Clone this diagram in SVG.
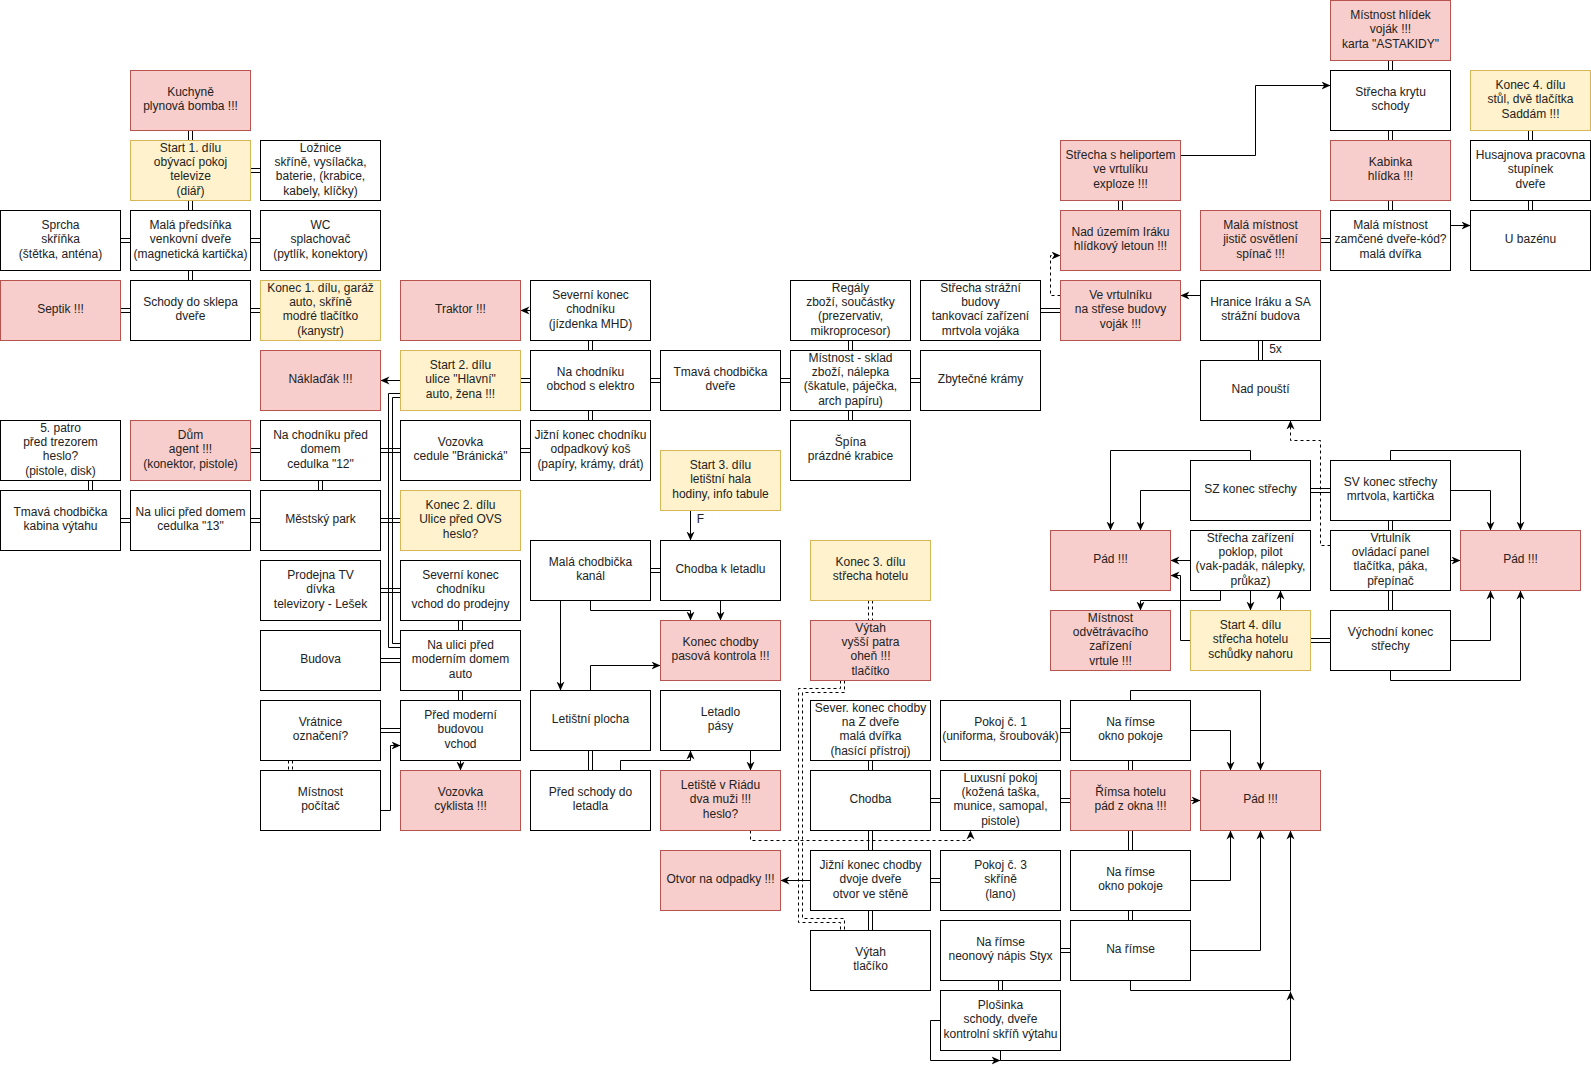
<svg xmlns="http://www.w3.org/2000/svg" width="1591" height="1070" viewBox="0 0 1591 1070">
<style>
.w{fill:#fff;stroke:#000}
.r{fill:#f8cecc;stroke:#b85450}
.y{fill:#fff2cc;stroke:#d6b656}
text{font-family:"Liberation Sans",Arial,sans-serif;font-size:12px;text-anchor:middle;fill:#222;transform:translateY(-1.5px)}
.e{fill:none;stroke:#000}
.d{stroke-dasharray:3 3}
.a{marker-end:url(#ar)}
</style>
<defs>
<marker id="ar" markerUnits="userSpaceOnUse" viewBox="0 0 10 10" markerWidth="9" markerHeight="9" refX="10" refY="5" orient="auto"><path d="M0,0.5 L10,5 L0,9.5 L3,5 Z" fill="#000"/></marker>
</defs>
<rect x="0" y="0" width="1591" height="1070" fill="#fff"/>
<g transform="translate(0.5,0.5)">
<g id="connectors">
<path class="e" d="M188 130V140M192 130V140M188 200V210M192 200V210M188 270V280M192 270V280
M88 480V490M92 480V490M318 480V490M322 480V490
M458 620V630M462 620V630M458 690V700M462 690V700
M588 340V350M592 340V350M588 410V420M592 410V420M588 750V770M592 750V770
M848 340V350M852 340V350M848 410V420M852 410V420
M868 760V770M872 760V770M868 830V850M872 830V850M868 910V930M872 910V930
M1128 760V770M1132 760V770M1128 830V850M1132 830V850M1128 910V920M1132 910V920
M998 980V990M1002 980V990
M1388 60V70M1392 60V70M1388 130V140M1392 130V140M1388 200V210M1392 200V210
M1528 130V140M1532 130V140M1528 200V210M1532 200V210
M1118 200V210M1122 200V210
M1258 340V360M1262 340V360
M1388 520V530M1392 520V530M1388 590V610M1392 590V610"/>
<path class="e" d="M250 168H260M250 172H260
M120 238H130M120 242H130M250 238H260M250 242H260
M120 308H130M120 312H130M250 308H260M250 312H260
M250 448H260M250 452H260M380 448H400M380 452H400M520 448H530M520 452H530
M120 518H130M120 522H130M250 518H260M250 522H260M380 518H400M380 522H400
M380 588H400M380 592H400M380 658H400M380 662H400M380 728H400M380 732H400
M520 378H530M520 382H530M650 378H660M650 382H660M780 378H790M780 382H790M910 378H920M910 382H920
M650 568H660M650 572H660
M930 798H940M930 802H940M1060 798H1070M1060 802H1070
M930 878H940M930 882H940
M1060 948H1070M1060 952H1070M1060 728H1070M1060 732H1070
M1040 308H1060M1040 312H1060
M1320 238H1330M1320 242H1330
M1310 488H1330M1310 492H1330
M1310 638H1330M1310 642H1330"/>
<path class="e" d="M400 393H388V647H400M400 397H392V643H400"/>
<path class="e d" d="M868 600V620M872 600V620M288 760V770M292 760V770"/>
<path class="e d" d="M840 680V688H798V922H840V930M844 680V692H802V918H844V930"/>
<path class="e a" d="M400 380H380"/>
<path class="e a" d="M530 310H520"/>
<path class="e a" d="M690 510V540"/>
<path class="e a" d="M560 600V690"/>
<path class="e a" d="M590 600V610H690V620"/>
<path class="e a" d="M720 600V620"/>
<path class="e a" d="M590 690V665H660"/>
<path class="e a" d="M620 770V760H690V750"/>
<path class="e a" d="M750 750V770"/>
<path class="e a" d="M460 760V770"/>
<path class="e a" d="M380 810H390V745H400"/>
<path class="e a" d="M810 880H780"/>
<path class="e a" d="M1180 155H1255V85H1330"/>
<path class="e a" d="M1450 225H1470"/>
<path class="e a" d="M1200 295H1180"/>
<path class="e a" d="M1250 460V450H1110V530"/>
<path class="e a" d="M1190 490H1140V530"/>
<path class="e a" d="M1390 460V450H1520V530"/>
<path class="e a" d="M1450 490H1490V530"/>
<path class="e a" d="M1190 560H1170"/>
<path class="e a" d="M1190 640H1180V575H1170"/>
<path class="e a" d="M1220 590V600H1140V610"/>
<path class="e a" d="M1250 590V610"/>
<path class="e a" d="M1280 610V590"/>
<path class="e a" d="M1450 560H1460"/>
<path class="e a" d="M1450 640H1490V590"/>
<path class="e a" d="M1390 670V680H1520V590"/>
<path class="e a" d="M1190 730H1230V770"/>
<path class="e a" d="M1130 700V690H1260V770"/>
<path class="e a" d="M1190 800H1200"/>
<path class="e a" d="M1190 880H1230V830"/>
<path class="e a" d="M1190 950H1260V830"/>
<path class="e a" d="M1130 980V990H1290V830"/>
<path class="e a" d="M1000 1050V1060H1290V991"/>
<path class="e a" d="M940 1020H930V1060H1000"/>
<path class="e d a" d="M1060 295H1050V255H1060"/>
<path class="e d a" d="M1330 545H1320V440H1290V420"/>
<path class="e d a" d="M750 830V840H970V830"/>
<text x="700" y="524">F</text>
<text x="1275" y="354">5x</text>
</g>
<g id="n1"><rect class="r" x="130" y="70" width="120" height="60"/><text x="190" y="97"><tspan x="190">Kuchyně</tspan><tspan x="190" dy="14.4">plynová bomba !!!</tspan></text></g>
<g id="n2"><rect class="y" x="130" y="140" width="120" height="60"/><text x="190" y="152.6"><tspan x="190">Start 1. dílu</tspan><tspan x="190" dy="14.4">obývací pokoj</tspan><tspan x="190" dy="14.4">televize</tspan><tspan x="190" dy="14.4">(diář)</tspan></text></g>
<g id="n3"><rect class="w" x="260" y="140" width="120" height="60"/><text x="320" y="152.6"><tspan x="320">Ložnice</tspan><tspan x="320" dy="14.4">skříně, vysílačka,</tspan><tspan x="320" dy="14.4">baterie, (krabice,</tspan><tspan x="320" dy="14.4">kabely, klíčky)</tspan></text></g>
<g id="n4"><rect class="w" x="0" y="210" width="120" height="60"/><text x="60" y="229.8"><tspan x="60">Sprcha</tspan><tspan x="60" dy="14.4">skříňka</tspan><tspan x="60" dy="14.4">(štětka, anténa)</tspan></text></g>
<g id="n5"><rect class="w" x="130" y="210" width="120" height="60"/><text x="190" y="229.8"><tspan x="190">Malá předsíňka</tspan><tspan x="190" dy="14.4">venkovní dveře</tspan><tspan x="190" dy="14.4">(magnetická kartička)</tspan></text></g>
<g id="n6"><rect class="w" x="260" y="210" width="120" height="60"/><text x="320" y="229.8"><tspan x="320">WC</tspan><tspan x="320" dy="14.4">splachovač</tspan><tspan x="320" dy="14.4">(pytlík, konektory)</tspan></text></g>
<g id="n7"><rect class="r" x="0" y="280" width="120" height="60"/><text x="60" y="314.2">Septik !!!</text></g>
<g id="n8"><rect class="w" x="130" y="280" width="120" height="60"/><text x="190" y="307"><tspan x="190">Schody do sklepa</tspan><tspan x="190" dy="14.4">dveře</tspan></text></g>
<g id="n9"><rect class="y" x="260" y="280" width="120" height="60"/><text x="320" y="292.6"><tspan x="320">Konec 1. dílu, garáž</tspan><tspan x="320" dy="14.4">auto, skříně</tspan><tspan x="320" dy="14.4">modré tlačítko</tspan><tspan x="320" dy="14.4">(kanystr)</tspan></text></g>
<g id="n10"><rect class="r" x="260" y="350" width="120" height="60"/><text x="320" y="384.2">Náklaďák !!!</text></g>
<g id="n11"><rect class="w" x="0" y="420" width="120" height="60"/><text x="60" y="432.6"><tspan x="60">5. patro</tspan><tspan x="60" dy="14.4">před trezorem</tspan><tspan x="60" dy="14.4">heslo?</tspan><tspan x="60" dy="14.4">(pistole, disk)</tspan></text></g>
<g id="n12"><rect class="r" x="130" y="420" width="120" height="60"/><text x="190" y="439.8"><tspan x="190">Dům</tspan><tspan x="190" dy="14.4">agent !!!</tspan><tspan x="190" dy="14.4">(konektor, pistole)</tspan></text></g>
<g id="n13"><rect class="w" x="260" y="420" width="120" height="60"/><text x="320" y="439.8"><tspan x="320">Na chodníku před</tspan><tspan x="320" dy="14.4">domem</tspan><tspan x="320" dy="14.4">cedulka "12"</tspan></text></g>
<g id="n14"><rect class="w" x="0" y="490" width="120" height="60"/><text x="60" y="517"><tspan x="60">Tmavá chodbička</tspan><tspan x="60" dy="14.4">kabina výtahu</tspan></text></g>
<g id="n15"><rect class="w" x="130" y="490" width="120" height="60"/><text x="190" y="517"><tspan x="190">Na ulici před domem</tspan><tspan x="190" dy="14.4">cedulka "13"</tspan></text></g>
<g id="n16"><rect class="w" x="260" y="490" width="120" height="60"/><text x="320" y="524.2">Městský park</text></g>
<g id="n17"><rect class="w" x="260" y="560" width="120" height="60"/><text x="320" y="579.8"><tspan x="320">Prodejna TV</tspan><tspan x="320" dy="14.4">dívka</tspan><tspan x="320" dy="14.4">televizory - Lešek</tspan></text></g>
<g id="n18"><rect class="w" x="260" y="630" width="120" height="60"/><text x="320" y="664.2">Budova</text></g>
<g id="n19"><rect class="w" x="260" y="700" width="120" height="60"/><text x="320" y="727"><tspan x="320">Vrátnice</tspan><tspan x="320" dy="14.4">označení?</tspan></text></g>
<g id="n20"><rect class="w" x="260" y="770" width="120" height="60"/><text x="320" y="797"><tspan x="320">Místnost</tspan><tspan x="320" dy="14.4">počítač</tspan></text></g>
<g id="n21"><rect class="r" x="400" y="280" width="120" height="60"/><text x="460" y="314.2">Traktor !!!</text></g>
<g id="n22"><rect class="y" x="400" y="350" width="120" height="60"/><text x="460" y="369.8"><tspan x="460">Start 2. dílu</tspan><tspan x="460" dy="14.4">ulice "Hlavní"</tspan><tspan x="460" dy="14.4">auto, žena !!!</tspan></text></g>
<g id="n23"><rect class="w" x="400" y="420" width="120" height="60"/><text x="460" y="447"><tspan x="460">Vozovka</tspan><tspan x="460" dy="14.4">cedule "Bránická"</tspan></text></g>
<g id="n24"><rect class="y" x="400" y="490" width="120" height="60"/><text x="460" y="509.8"><tspan x="460">Konec 2. dílu</tspan><tspan x="460" dy="14.4">Ulice před OVS</tspan><tspan x="460" dy="14.4">heslo?</tspan></text></g>
<g id="n25"><rect class="w" x="400" y="560" width="120" height="60"/><text x="460" y="579.8"><tspan x="460">Severní konec</tspan><tspan x="460" dy="14.4">chodníku</tspan><tspan x="460" dy="14.4">vchod do prodejny</tspan></text></g>
<g id="n26"><rect class="w" x="400" y="630" width="120" height="60"/><text x="460" y="649.8"><tspan x="460">Na ulici před</tspan><tspan x="460" dy="14.4">moderním domem</tspan><tspan x="460" dy="14.4">auto</tspan></text></g>
<g id="n27"><rect class="w" x="400" y="700" width="120" height="60"/><text x="460" y="719.8"><tspan x="460">Před moderní</tspan><tspan x="460" dy="14.4">budovou</tspan><tspan x="460" dy="14.4">vchod</tspan></text></g>
<g id="n28"><rect class="r" x="400" y="770" width="120" height="60"/><text x="460" y="797"><tspan x="460">Vozovka</tspan><tspan x="460" dy="14.4">cyklista !!!</tspan></text></g>
<g id="n29"><rect class="w" x="530" y="280" width="120" height="60"/><text x="590" y="299.8"><tspan x="590">Severní konec</tspan><tspan x="590" dy="14.4">chodníku</tspan><tspan x="590" dy="14.4">(jízdenka MHD)</tspan></text></g>
<g id="n30"><rect class="w" x="530" y="350" width="120" height="60"/><text x="590" y="377"><tspan x="590">Na chodníku</tspan><tspan x="590" dy="14.4">obchod s elektro</tspan></text></g>
<g id="n31"><rect class="w" x="530" y="420" width="120" height="60"/><text x="590" y="439.8"><tspan x="590">Jižní konec chodníku</tspan><tspan x="590" dy="14.4">odpadkový koš</tspan><tspan x="590" dy="14.4">(papíry, krámy, drát)</tspan></text></g>
<g id="n32"><rect class="w" x="530" y="540" width="120" height="60"/><text x="590" y="567"><tspan x="590">Malá chodbička</tspan><tspan x="590" dy="14.4">kanál</tspan></text></g>
<g id="n33"><rect class="w" x="530" y="690" width="120" height="60"/><text x="590" y="724.2">Letištní plocha</text></g>
<g id="n34"><rect class="w" x="530" y="770" width="120" height="60"/><text x="590" y="797"><tspan x="590">Před schody do</tspan><tspan x="590" dy="14.4">letadla</tspan></text></g>
<g id="n35"><rect class="w" x="660" y="350" width="120" height="60"/><text x="720" y="377"><tspan x="720">Tmavá chodbička</tspan><tspan x="720" dy="14.4">dveře</tspan></text></g>
<g id="n36"><rect class="y" x="660" y="450" width="120" height="60"/><text x="720" y="469.8"><tspan x="720">Start 3. dílu</tspan><tspan x="720" dy="14.4">letištní hala</tspan><tspan x="720" dy="14.4">hodiny, info tabule</tspan></text></g>
<g id="n37"><rect class="w" x="660" y="540" width="120" height="60"/><text x="720" y="574.2">Chodba k letadlu</text></g>
<g id="n38"><rect class="r" x="660" y="620" width="120" height="60"/><text x="720" y="647"><tspan x="720">Konec chodby</tspan><tspan x="720" dy="14.4">pasová kontrola !!!</tspan></text></g>
<g id="n39"><rect class="w" x="660" y="690" width="120" height="60"/><text x="720" y="717"><tspan x="720">Letadlo</tspan><tspan x="720" dy="14.4">pásy</tspan></text></g>
<g id="n40"><rect class="r" x="660" y="770" width="120" height="60"/><text x="720" y="789.8"><tspan x="720">Letiště v Riádu</tspan><tspan x="720" dy="14.4">dva muži !!!</tspan><tspan x="720" dy="14.4">heslo?</tspan></text></g>
<g id="n41"><rect class="r" x="660" y="850" width="120" height="60"/><text x="720" y="884.2">Otvor na odpadky !!!</text></g>
<g id="n42"><rect class="w" x="790" y="280" width="120" height="60"/><text x="850" y="292.6"><tspan x="850">Regály</tspan><tspan x="850" dy="14.4">zboží, součástky</tspan><tspan x="850" dy="14.4">(prezervativ,</tspan><tspan x="850" dy="14.4">mikroprocesor)</tspan></text></g>
<g id="n43"><rect class="w" x="790" y="350" width="120" height="60"/><text x="850" y="362.6"><tspan x="850">Místnost - sklad</tspan><tspan x="850" dy="14.4">zboží, nálepka</tspan><tspan x="850" dy="14.4">(škatule, páječka,</tspan><tspan x="850" dy="14.4">arch papíru)</tspan></text></g>
<g id="n44"><rect class="w" x="790" y="420" width="120" height="60"/><text x="850" y="447"><tspan x="850">Špína</tspan><tspan x="850" dy="14.4">prázdné krabice</tspan></text></g>
<g id="n45"><rect class="y" x="810" y="540" width="120" height="60"/><text x="870" y="567"><tspan x="870">Konec 3. dílu</tspan><tspan x="870" dy="14.4">střecha hotelu</tspan></text></g>
<g id="n46"><rect class="r" x="810" y="620" width="120" height="60"/><text x="870" y="632.6"><tspan x="870">Výtah</tspan><tspan x="870" dy="14.4">vyšší patra</tspan><tspan x="870" dy="14.4">oheň !!!</tspan><tspan x="870" dy="14.4">tlačítko</tspan></text></g>
<g id="n47"><rect class="w" x="810" y="700" width="120" height="60"/><text x="870" y="712.6"><tspan x="870">Sever. konec chodby</tspan><tspan x="870" dy="14.4">na Z dveře</tspan><tspan x="870" dy="14.4">malá dvířka</tspan><tspan x="870" dy="14.4">(hasící přístroj)</tspan></text></g>
<g id="n48"><rect class="w" x="810" y="770" width="120" height="60"/><text x="870" y="804.2">Chodba</text></g>
<g id="n49"><rect class="w" x="810" y="850" width="120" height="60"/><text x="870" y="869.8"><tspan x="870">Jižní konec chodby</tspan><tspan x="870" dy="14.4">dvoje dveře</tspan><tspan x="870" dy="14.4">otvor ve stěně</tspan></text></g>
<g id="n50"><rect class="w" x="810" y="930" width="120" height="60"/><text x="870" y="957"><tspan x="870">Výtah</tspan><tspan x="870" dy="14.4">tlačíko</tspan></text></g>
<g id="n51"><rect class="w" x="920" y="280" width="120" height="60"/><text x="980" y="292.6"><tspan x="980">Střecha strážní</tspan><tspan x="980" dy="14.4">budovy</tspan><tspan x="980" dy="14.4">tankovací zařízení</tspan><tspan x="980" dy="14.4">mrtvola vojáka</tspan></text></g>
<g id="n52"><rect class="w" x="920" y="350" width="120" height="60"/><text x="980" y="384.2">Zbytečné krámy</text></g>
<g id="n53"><rect class="w" x="940" y="700" width="120" height="60"/><text x="1000" y="727"><tspan x="1000">Pokoj č. 1</tspan><tspan x="1000" dy="14.4">(uniforma, šroubovák)</tspan></text></g>
<g id="n54"><rect class="w" x="940" y="770" width="120" height="60"/><text x="1000" y="782.6"><tspan x="1000">Luxusní pokoj</tspan><tspan x="1000" dy="14.4">(kožená taška,</tspan><tspan x="1000" dy="14.4">munice, samopal,</tspan><tspan x="1000" dy="14.4">pistole)</tspan></text></g>
<g id="n55"><rect class="w" x="940" y="850" width="120" height="60"/><text x="1000" y="869.8"><tspan x="1000">Pokoj č. 3</tspan><tspan x="1000" dy="14.4">skříně</tspan><tspan x="1000" dy="14.4">(lano)</tspan></text></g>
<g id="n56"><rect class="w" x="940" y="920" width="120" height="60"/><text x="1000" y="947"><tspan x="1000">Na římse</tspan><tspan x="1000" dy="14.4">neonový nápis Styx</tspan></text></g>
<g id="n57"><rect class="w" x="940" y="990" width="120" height="60"/><text x="1000" y="1009.8"><tspan x="1000">Plošinka</tspan><tspan x="1000" dy="14.4">schody, dveře</tspan><tspan x="1000" dy="14.4">kontrolní skříň výtahu</tspan></text></g>
<g id="n58"><rect class="w" x="1070" y="700" width="120" height="60"/><text x="1130" y="727"><tspan x="1130">Na římse</tspan><tspan x="1130" dy="14.4">okno pokoje</tspan></text></g>
<g id="n59"><rect class="r" x="1070" y="770" width="120" height="60"/><text x="1130" y="797"><tspan x="1130">Římsa hotelu</tspan><tspan x="1130" dy="14.4">pád z okna !!!</tspan></text></g>
<g id="n60"><rect class="w" x="1070" y="850" width="120" height="60"/><text x="1130" y="877"><tspan x="1130">Na římse</tspan><tspan x="1130" dy="14.4">okno pokoje</tspan></text></g>
<g id="n61"><rect class="w" x="1070" y="920" width="120" height="60"/><text x="1130" y="954.2">Na římse</text></g>
<g id="n62"><rect class="r" x="1200" y="770" width="120" height="60"/><text x="1260" y="804.2">Pád !!!</text></g>
<g id="n63"><rect class="r" x="1060" y="140" width="120" height="60"/><text x="1120" y="159.8"><tspan x="1120">Střecha s heliportem</tspan><tspan x="1120" dy="14.4">ve vrtulíku</tspan><tspan x="1120" dy="14.4">exploze !!!</tspan></text></g>
<g id="n64"><rect class="r" x="1060" y="210" width="120" height="60"/><text x="1120" y="237"><tspan x="1120">Nad územím Iráku</tspan><tspan x="1120" dy="14.4">hlídkový letoun !!!</tspan></text></g>
<g id="n65"><rect class="r" x="1060" y="280" width="120" height="60"/><text x="1120" y="299.8"><tspan x="1120">Ve vrtulníku</tspan><tspan x="1120" dy="14.4">na střese budovy</tspan><tspan x="1120" dy="14.4">voják !!!</tspan></text></g>
<g id="n66"><rect class="r" x="1200" y="210" width="120" height="60"/><text x="1260" y="229.8"><tspan x="1260">Malá místnost</tspan><tspan x="1260" dy="14.4">jistič osvětlení</tspan><tspan x="1260" dy="14.4">spínač !!!</tspan></text></g>
<g id="n67"><rect class="w" x="1200" y="280" width="120" height="60"/><text x="1260" y="307"><tspan x="1260">Hranice Iráku a SA</tspan><tspan x="1260" dy="14.4">strážní budova</tspan></text></g>
<g id="n68"><rect class="w" x="1200" y="360" width="120" height="60"/><text x="1260" y="394.2">Nad pouští</text></g>
<g id="n69"><rect class="r" x="1330" y="0" width="120" height="60"/><text x="1390" y="19.8"><tspan x="1390">Místnost hlídek</tspan><tspan x="1390" dy="14.4">voják !!!</tspan><tspan x="1390" dy="14.4">karta "ASTAKIDY"</tspan></text></g>
<g id="n70"><rect class="w" x="1330" y="70" width="120" height="60"/><text x="1390" y="97"><tspan x="1390">Střecha krytu</tspan><tspan x="1390" dy="14.4">schody</tspan></text></g>
<g id="n71"><rect class="r" x="1330" y="140" width="120" height="60"/><text x="1390" y="167"><tspan x="1390">Kabinka</tspan><tspan x="1390" dy="14.4">hlídka !!!</tspan></text></g>
<g id="n72"><rect class="w" x="1330" y="210" width="120" height="60"/><text x="1390" y="229.8"><tspan x="1390">Malá místnost</tspan><tspan x="1390" dy="14.4">zamčené dveře-kód?</tspan><tspan x="1390" dy="14.4">malá dvířka</tspan></text></g>
<g id="n73"><rect class="y" x="1470" y="70" width="120" height="60"/><text x="1530" y="89.8"><tspan x="1530">Konec 4. dílu</tspan><tspan x="1530" dy="14.4">stůl, dvě tlačítka</tspan><tspan x="1530" dy="14.4">Saddám !!!</tspan></text></g>
<g id="n74"><rect class="w" x="1470" y="140" width="120" height="60"/><text x="1530" y="159.8"><tspan x="1530">Husajnova pracovna</tspan><tspan x="1530" dy="14.4">stupínek</tspan><tspan x="1530" dy="14.4">dveře</tspan></text></g>
<g id="n75"><rect class="w" x="1470" y="210" width="120" height="60"/><text x="1530" y="244.2">U bazénu</text></g>
<g id="n76"><rect class="w" x="1190" y="460" width="120" height="60"/><text x="1250" y="494.2">SZ konec střechy</text></g>
<g id="n77"><rect class="w" x="1330" y="460" width="120" height="60"/><text x="1390" y="487"><tspan x="1390">SV konec střechy</tspan><tspan x="1390" dy="14.4">mrtvola, kartička</tspan></text></g>
<g id="n78"><rect class="r" x="1050" y="530" width="120" height="60"/><text x="1110" y="564.2">Pád !!!</text></g>
<g id="n79"><rect class="w" x="1190" y="530" width="120" height="60"/><text x="1250" y="542.6"><tspan x="1250">Střecha zařízení</tspan><tspan x="1250" dy="14.4">poklop, pilot</tspan><tspan x="1250" dy="14.4">(vak-padák, nálepky,</tspan><tspan x="1250" dy="14.4">průkaz)</tspan></text></g>
<g id="n80"><rect class="w" x="1330" y="530" width="120" height="60"/><text x="1390" y="542.6"><tspan x="1390">Vrtulník</tspan><tspan x="1390" dy="14.4">ovládací panel</tspan><tspan x="1390" dy="14.4">tlačítka, páka,</tspan><tspan x="1390" dy="14.4">přepínač</tspan></text></g>
<g id="n81"><rect class="r" x="1460" y="530" width="120" height="60"/><text x="1520" y="564.2">Pád !!!</text></g>
<g id="n82"><rect class="r" x="1050" y="610" width="120" height="60"/><text x="1110" y="622.6"><tspan x="1110">Místnost</tspan><tspan x="1110" dy="14.4">odvětrávacího</tspan><tspan x="1110" dy="14.4">zařízení</tspan><tspan x="1110" dy="14.4">vrtule !!!</tspan></text></g>
<g id="n83"><rect class="y" x="1190" y="610" width="120" height="60"/><text x="1250" y="629.8"><tspan x="1250">Start 4. dílu</tspan><tspan x="1250" dy="14.4">střecha hotelu</tspan><tspan x="1250" dy="14.4">schůdky nahoru</tspan></text></g>
<g id="n84"><rect class="w" x="1330" y="610" width="120" height="60"/><text x="1390" y="637"><tspan x="1390">Východní konec</tspan><tspan x="1390" dy="14.4">střechy</tspan></text></g>
</g>
</svg>
